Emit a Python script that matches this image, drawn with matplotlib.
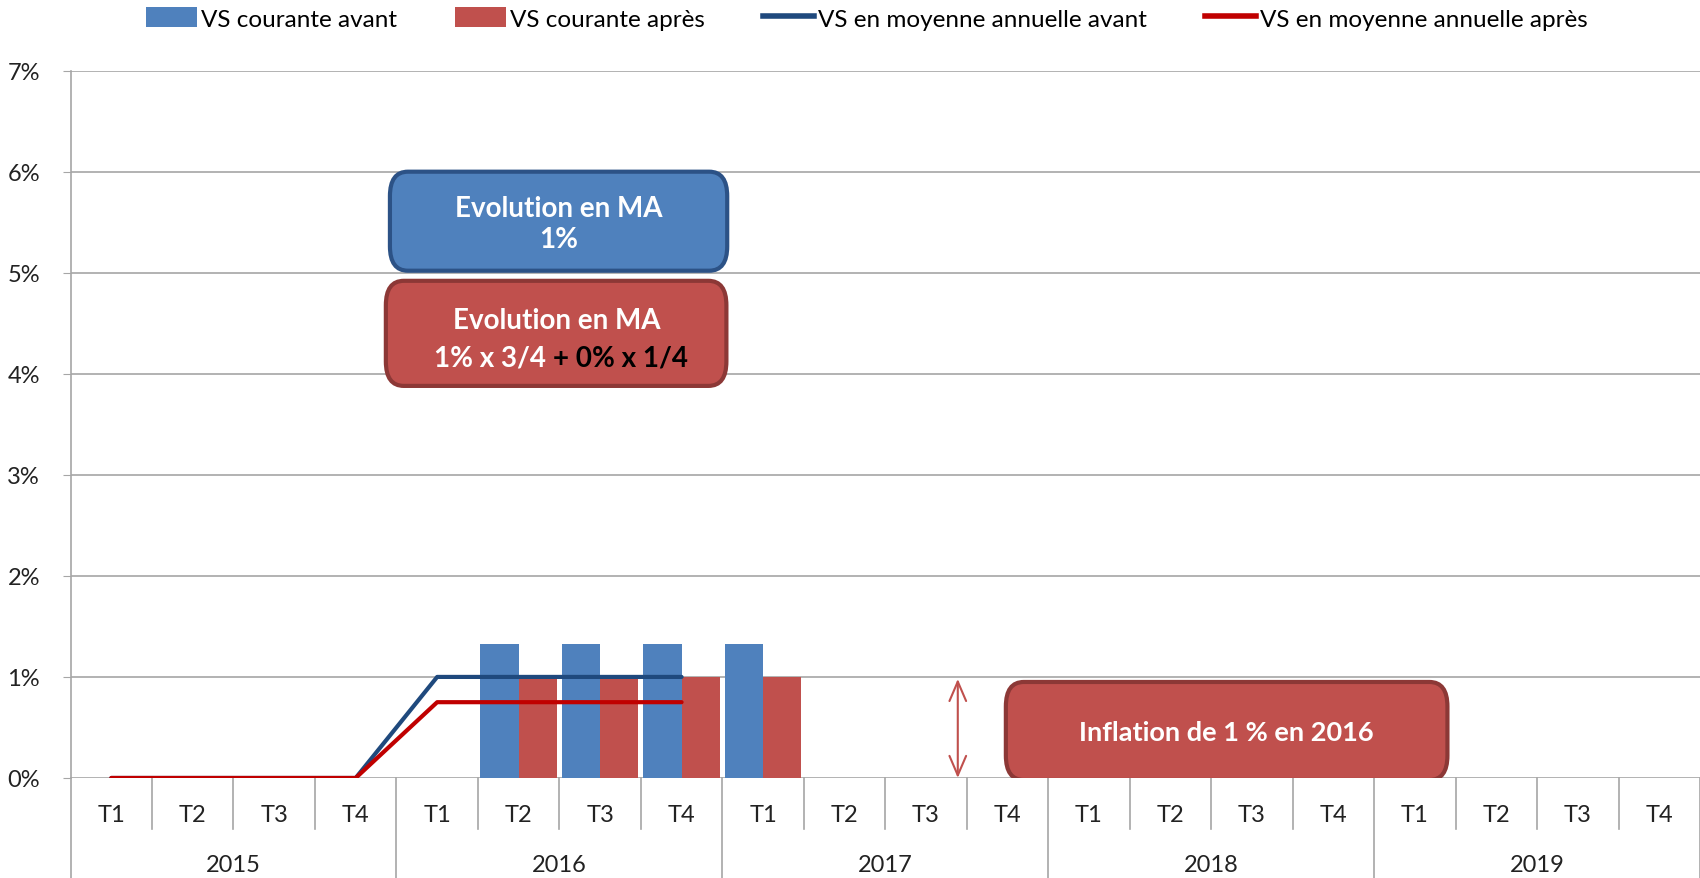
import numpy as np
import matplotlib
matplotlib.use("Agg")
import matplotlib.pyplot as plt
from matplotlib.patches import FancyBboxPatch, Patch
from matplotlib.lines import Line2D

plt.rcParams['font.family'] = ['Lato', 'DejaVu Sans']

# data
quarters = ['T1', 'T2', 'T3', 'T4'] * 5
years = ['2015', '2016', '2017', '2018', '2019']
nan = np.nan
vs_courante_avant = [0, 0, 0, 0, 0, 1.33, 1.33, 1.33, 1.33, 0, 0, 0, 0, 0, 0, 0, 0, 0, 0, 0]
vs_courante_apres = [0, 0, 0, 0, 0, 1.0, 1.0, 1.0, 1.0, 0, 0, 0, 0, 0, 0, 0, 0, 0, 0, 0]
ma_avant = [0, 0, 0, 0, 1.0, 1.0, 1.0, 1.0] + [nan] * 12
ma_apres = [0, 0, 0, 0, 0.75, 0.75, 0.75, 0.75] + [nan] * 12
y_ticks = [0, 1, 2, 3, 4, 5, 6, 7]

blue = '#4F81BD'
red = '#C0504D'
line_blue = '#1F497D'
line_red = '#C00000'
grey = '#A6A6A6'

fig = plt.figure(figsize=(17, 8.79), dpi=100)
ax = fig.add_axes([0.0415, 0.1138, 0.9585, 0.8047])

x = np.arange(len(quarters))
w = 0.47
ax.bar(x - w / 2, vs_courante_avant, width=w, color=blue, zorder=3)
ax.bar(x + w / 2, vs_courante_apres, width=w, color=red, zorder=3)
ax.plot(x, ma_avant, color=line_blue, lw=3, solid_capstyle='round', zorder=4)
ax.plot(x, ma_apres, color=line_red, lw=3, solid_capstyle='round', zorder=4)

ax.set_xlim(-0.5, 19.5)
ax.set_ylim(0, 7)
ax.set_yticks(y_ticks)
ax.set_yticklabels([f'{t}%' for t in y_ticks], fontsize=17, color='#222222')
ax.tick_params(axis='y', length=6, color=grey, pad=16)
ax.set_xticks([])
ax.yaxis.grid(True, color=grey, lw=1.2)
ax.set_axisbelow(True)
for s in ['top', 'right', 'bottom']:
    ax.spines[s].set_visible(False)
ax.spines['left'].set_color(grey)
ax.spines['left'].set_linewidth(1.2)

# category axis: quarter and year labels with separators
trans = ax.get_xaxis_transform()
for i, q in enumerate(quarters):
    ax.text(i, -0.051, q, transform=trans, ha='center', va='center', fontsize=17, color='#222222')
for j, yr in enumerate(years):
    ax.text(j * 4 + 1.5, -0.123, yr, transform=trans, ha='center', va='center', fontsize=17, color='#222222')
for b in range(21):
    bottom = -0.145 if b % 4 == 0 else -0.072
    ax.plot([b - 0.5, b - 0.5], [0, bottom], transform=trans, color=grey, lw=1.2, clip_on=False)

# annotation boxes
def box(x0, y0, x1, y1, face, edge):
    p = FancyBboxPatch((x0, y0), x1 - x0, y1 - y0,
                       boxstyle='round,pad=0,rounding_size=0.22', mutation_aspect=1.1,
                       facecolor=face, edgecolor=edge, lw=3, zorder=5)
    ax.add_patch(p)

box(3.42, 5.02, 7.56, 6.0, blue, '#2C5286')
ax.text(5.49, 5.49, 'Evolution en MA\n1%', ha='center', va='center', color='white',
        fontsize=20, fontweight='bold', linespacing=1.25, zorder=6)

box(3.37, 3.88, 7.55, 4.92, red, '#8C3836')
ax.text(5.47, 4.53, 'Evolution en MA', ha='center', va='center', color='white',
        fontsize=20, fontweight='bold', zorder=6)
ax.text(5.42, 4.16, '1% x 3/4 ', ha='right', va='center', color='white',
        fontsize=20, fontweight='bold', zorder=6)
ax.text(5.42, 4.16, '+ 0% x 1/4', ha='left', va='center', color='black',
        fontsize=20, fontweight='bold', zorder=6)

box(10.98, -0.02, 16.40, 0.95, red, '#8C3836')
ax.text(13.69, 0.45, 'Inflation de 1 % en 2016', ha='center', va='center', color='white',
        fontsize=19.5, fontweight='bold', zorder=6)

ax.annotate('', xy=(10.39, 0), xytext=(10.39, 0.98),
            arrowprops=dict(arrowstyle='<->,head_length=0.7,head_width=0.3',
                            color=red, lw=1.5, mutation_scale=20,
                            shrinkA=0, shrinkB=0), zorder=6)

# legend
handles = [Patch(facecolor=blue), Patch(facecolor=red),
           Line2D([], [], color=line_blue, lw=4), Line2D([], [], color=line_red, lw=4)]
labels = ['VS courante avant', 'VS courante après',
          'VS en moyenne annuelle avant', 'VS en moyenne annuelle après']
fig.legend(handles, labels, loc='center', bbox_to_anchor=(0.51, 0.978), ncol=4,
           frameon=False, fontsize=17.5, handlelength=2.1, handletextpad=0.15,
           columnspacing=2.4, handleheight=0.9)

fig.savefig('out.png', dpi=100)
